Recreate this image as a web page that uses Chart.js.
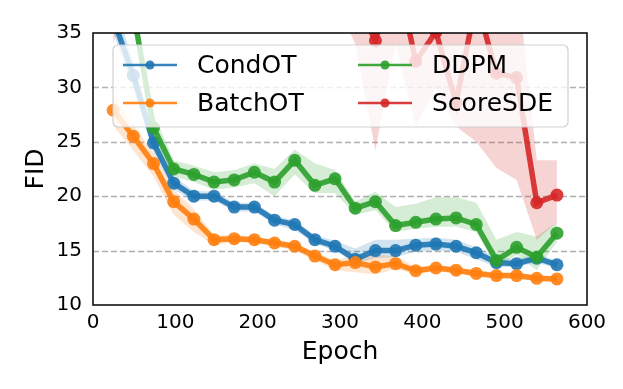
<!DOCTYPE html>
<html lang="en">
<head>
<meta charset="UTF-8">
<title>FID vs Epoch</title>
<script src="https://cdn.jsdelivr.net/npm/chart.js"></script>
<style>
  body { margin: 0; background: #fff; }
  #wrap { width: 623px; height: 389px; }
</style>
</head>
<body>
<div id="wrap"><canvas id="fidChart" width="623" height="389"></canvas></div>
<script>
// checkpoints (epoch)
const epochs = [24.5, 49, 73.5, 98, 122.5, 147, 171.5, 196, 220.5, 245, 269.5, 294,
                318.5, 343, 367.5, 392, 416.5, 441, 465.5, 490, 514.5, 539, 563.5];

const condOT     = [36.3, 31.1, 24.9, 21.2, 20.0, 20.0, 19.0, 19.0, 17.8, 17.4, 16.0, 15.4,
                    14.2, 15.0, 15.0, 15.5, 15.6, 15.4, 14.8, 13.9, 13.8, 14.3, 13.7];
const condOTLow  = [35.0, 29.8, 24.0, 20.6, 19.6, 19.6, 18.6, 18.6, 17.4, 16.9, 15.6, 15.0,
                    13.8, 14.3, 14.4, 14.9, 15.0, 14.9, 14.2, 13.5, 13.5, 13.9, 13.3];
const condOTHigh = [38.0, 32.4, 25.8, 21.8, 20.5, 20.4, 19.4, 19.4, 18.2, 17.8, 16.4, 15.9,
                    15.2, 16.0, 16.0, 16.1, 16.2, 16.0, 15.3, 14.4, 14.2, 14.7, 14.1];

const batchOT     = [27.9, 25.5, 23.0, 19.5, 17.9, 16.0, 16.1, 16.0, 15.7, 15.4, 14.5, 13.7,
                     13.9, 13.5, 13.8, 13.15, 13.4, 13.2, 12.9, 12.7, 12.7, 12.45, 12.4];
const batchOTLow  = [26.5, 24.2, 21.8, 18.3, 16.7, 15.5, 15.8, 15.7, 15.4, 15.0, 14.1, 13.2,
                     13.0, 12.8, 13.3, 12.8, 13.1, 12.9, 12.6, 12.4, 12.4, 12.2, 12.1];
const batchOTHigh = [29.3, 26.6, 24.0, 20.6, 18.8, 16.4, 16.4, 16.3, 16.0, 15.7, 14.9, 14.1,
                     14.6, 14.6, 14.5, 13.5, 13.7, 13.5, 13.2, 13.0, 12.9, 12.7, 12.6];

const ddpm     = [60.0, 37.0, 26.3, 22.5, 22.0, 21.3, 21.5, 22.2, 21.3, 23.3, 21.0, 21.6,
                  18.9, 19.5, 17.3, 17.6, 17.9, 18.0, 17.4, 14.1, 15.3, 14.4, 16.6];
const ddpmLow  = [50.0, 35.5, 25.0, 21.8, 21.3, 20.6, 20.8, 21.2, 20.0, 22.0, 20.3, 20.3,
                  18.3, 18.7, 16.7, 17.0, 17.2, 17.2, 16.7, 13.5, 14.6, 13.2, 15.8];
const ddpmHigh = [70.0, 38.5, 27.6, 23.3, 22.8, 22.2, 22.4, 23.0, 22.5, 24.3, 23.0, 22.4,
                  19.5, 20.4, 19.0, 19.3, 19.9, 19.9, 19.4, 16.0, 16.7, 16.3, 17.6];

const scoreSDE     = [90, 85, 80, 75, 70, 65, 60, 58, 55, 52, 48, 44,
                      38, 34.3, 41, 32.4, 35.1, 28.6, 38, 31.3, 30.9, 19.4, 20.1];
const scoreSDELow  = [34, 40, 45, 45, 45, 45, 45, 45, 45, 44, 42, 38,
                      34, 24.2, 34, 26.4, 30, 26.4, 25, 22.6, 21.5, 16.0, 17.6];
const scoreSDEHigh = [120, 110, 100, 95, 90, 85, 80, 75, 70, 66, 62, 56,
                      48, 44, 50, 42, 42, 38, 46, 40, 40.3, 23.3, 23.3];

const xTicks = [0, 100, 200, 300, 400, 500, 600];
const yTicks = [10, 15, 20, 25, 30, 35];
const gridValues = [15, 20, 25, 30];

const BLUE = [31, 119, 180], ORANGE = [255, 127, 14], GREEN = [44, 160, 44], RED = [214, 39, 40];
const rgba = (c, a) => `rgba(${c[0]},${c[1]},${c[2]},${a})`;
const FONT = "'DejaVu Sans', sans-serif";

function pts(ys) {
    return epochs.map((e, i) => ({ x: e, y: ys[i] }));
}

function series(label, color, ys, order) {
    return {
        label: label,
        data: pts(ys),
        borderColor: rgba(color, 0.9),
        backgroundColor: rgba(color, 0.9),
        pointBackgroundColor: rgba(color, 0.9),
        borderWidth: 5.5,
        pointRadius: 6.5,
        pointBorderWidth: 0,
        tension: 0,
        fill: false,
        clip: 0,
        order: order,
        isLine: true
    };
}

function band(color, lo, hi, order) {
    return [
        { data: pts(lo), borderWidth: 0, pointRadius: 0, fill: false, clip: 0, order: order },
        { data: pts(hi), borderWidth: 0, pointRadius: 0, fill: '-1', clip: 0, order: order,
          backgroundColor: rgba(color, 0.2) }
    ];
}

const datasets = [
    series('CondOT', BLUE, condOT, 4),
    series('BatchOT', ORANGE, batchOT, 3),
    series('DDPM', GREEN, ddpm, 2),
    series('ScoreSDE', RED, scoreSDE, 1),
    ...band(BLUE, condOTLow, condOTHigh, 8),
    ...band(ORANGE, batchOTLow, batchOTHigh, 7),
    ...band(GREEN, ddpmLow, ddpmHigh, 6),
    ...band(RED, scoreSDELow, scoreSDEHigh, 5)
];

// dashed horizontal grid, drawn under the data
const gridPlugin = {
    id: 'dashGrid',
    beforeDatasetsDraw(chart) {
        const { ctx, chartArea: a, scales: { y } } = chart;
        ctx.save();
        ctx.strokeStyle = '#b0b0b0';
        ctx.lineWidth = 1.5;
        ctx.setLineDash([6, 3]);
        gridValues.forEach(v => {
            const py = Math.round(y.getPixelForValue(v)) + 0.5;
            ctx.beginPath();
            ctx.moveTo(a.left, py);
            ctx.lineTo(a.right, py);
            ctx.stroke();
        });
        ctx.restore();
    }
};

// axes box + legend inside the plot
const frameLegendPlugin = {
    id: 'frameLegend',
    afterDraw(chart) {
        const { ctx, chartArea: a } = chart;
        ctx.save();
        ctx.strokeStyle = '#000';
        ctx.lineWidth = 1.5;
        ctx.strokeRect(a.left, a.top, a.right - a.left, a.bottom - a.top);

        // legend box
        const bx = 113, by = 45, bw = 455, bh = 82, r = 5;
        ctx.beginPath();
        ctx.moveTo(bx + r, by);
        ctx.arcTo(bx + bw, by, bx + bw, by + bh, r);
        ctx.arcTo(bx + bw, by + bh, bx, by + bh, r);
        ctx.arcTo(bx, by + bh, bx, by, r);
        ctx.arcTo(bx, by, bx + bw, by, r);
        ctx.closePath();
        ctx.fillStyle = 'rgba(255,255,255,0.8)';
        ctx.fill();
        ctx.strokeStyle = 'rgba(204,204,204,0.9)';
        ctx.lineWidth = 1.2;
        ctx.stroke();

        const lines = chart.data.datasets.filter(d => d.isLine);
        const cols = [123, 358];
        const rows = [65, 103];
        ctx.font = `25px ${FONT}`;
        ctx.textBaseline = 'middle';
        lines.forEach((d, i) => {
            const hx = cols[Math.floor(i / 2)];
            const hy = rows[i % 2];
            ctx.strokeStyle = d.borderColor;
            ctx.lineWidth = 2.5;
            ctx.beginPath();
            ctx.moveTo(hx, hy);
            ctx.lineTo(hx + 54, hy);
            ctx.stroke();
            ctx.fillStyle = d.borderColor;
            ctx.beginPath();
            ctx.arc(hx + 27, hy, 4.5, 0, Math.PI * 2);
            ctx.fill();
            ctx.fillStyle = '#000';
            ctx.fillText(d.label, hx + 74, hy + 1);
        });
        ctx.restore();
    }
};

new Chart(document.getElementById('fidChart'), {
    type: 'line',
    data: { datasets: datasets },
    options: {
        responsive: false,
        animation: false,
        events: [],
        layout: { padding: { left: 0, right: 36, top: 33, bottom: 0 } },
        plugins: { legend: { display: false }, tooltip: { enabled: false } },
        scales: {
            x: {
                type: 'linear',
                min: 0, max: 600,
                afterBuildTicks: s => { s.ticks = xTicks.map(v => ({ value: v })); },
                afterFit: s => { s.height = 84; },
                grid: { display: false, drawTicks: false },
                border: { display: false },
                ticks: { color: '#000', padding: 6, maxRotation: 0, font: { family: FONT, size: 20 } },
                title: { display: true, text: 'Epoch', color: '#000', padding: { top: 0, bottom: 22 },
                         font: { family: FONT, size: 25 } }
            },
            y: {
                min: 10, max: 35,
                afterBuildTicks: s => { s.ticks = yTicks.map(v => ({ value: v })); },
                afterFit: s => { s.width = 93; },
                grid: { display: false, drawTicks: false },
                border: { display: false },
                ticks: { color: '#000', padding: 11, font: { family: FONT, size: 20 } },
                title: { display: true, text: 'FID', color: '#000', padding: { top: 21, bottom: 0 },
                         font: { family: FONT, size: 25 } }
            }
        }
    },
    plugins: [gridPlugin, frameLegendPlugin]
});
</script>
</body>
</html>
